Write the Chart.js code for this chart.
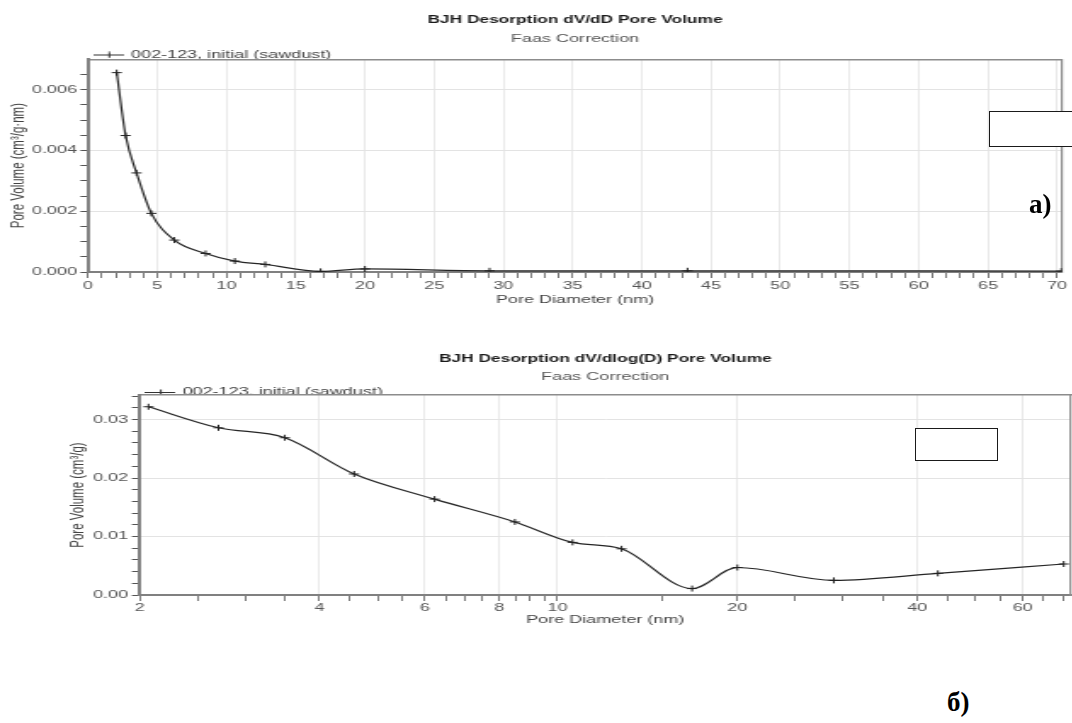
<!DOCTYPE html>
<html><head><meta charset="utf-8">
<script src="https://cdn.jsdelivr.net/npm/chart.js@4"></script>
<style>
html,body{margin:0;padding:0;background:#fff;overflow:hidden;width:1072px;height:723px;}
.wrap{position:absolute;left:0;width:631px;transform:scaleX(1.7);transform-origin:0 0;}
#w1{top:0;height:312px;}
#w2{top:340px;height:300px;}
.box{position:absolute;background:#fff;border:1.5px solid #1a1a1a;box-sizing:border-box;}
.lbl{position:absolute;font-family:'Liberation Serif','Times New Roman',serif;font-weight:bold;font-size:27px;color:#000;line-height:1;}
</style></head>
<body>
<div class="wrap" id="w1"><canvas id="c1"></canvas></div>
<div class="wrap" id="w2"><canvas id="c2"></canvas></div>
<div class="box" style="left:989px;top:111px;width:100px;height:36px"></div>
<div class="box" style="left:915px;top:428px;width:83px;height:33px"></div>
<div class="lbl" style="left:1029px;top:191px">а)</div>
<div class="lbl" style="left:947px;top:689px">б)</div>
<script>
// ---- data ----
const poreDiameter = [2.07, 2.71, 3.50, 4.57, 6.23, 8.49, 10.6, 12.8, 16.8, 20.0, 29.0, 43.3, 70.3];
const dVdD        = [0.00656, 0.00449, 0.00326, 0.00193, 0.00105, 0.00061, 0.00036, 0.00025, 0.00002, 0.00010, 0.00004, 0.00004, 0.00003];
const dVdlogD     = [0.0322, 0.0286, 0.0269, 0.0207, 0.0164, 0.0125, 0.0090, 0.0079, 0.0011, 0.0047, 0.0025, 0.0037, 0.0053];
const seriesName  = '002-123, initial (sawdust)';

// ---- tick labels ----
const topXLabels = [0, 5, 10, 15, 20, 25, 30, 35, 40, 45, 50, 55, 60, 65, 70];
const topYLabels = [0, 0.002, 0.004, 0.006];
const botXTicks  = [2, 2.5, 3, 3.5, 4, 4.5, 5, 5.5, 6, 6.5, 7, 7.5, 8, 8.5, 9, 9.5, 10, 15, 20, 25, 30, 35, 40, 45, 50, 55, 60, 65, 70];
const botXLabels = [2, 4, 6, 8, 10, 20, 40, 60];
const botYLabels = [0, 0.01, 0.02, 0.03];

function range(a, b, step) { const out = []; for (let v = a; v <= b + step / 1000; v += step) out.push(+v.toFixed(6)); return out; }
const topXTicks = range(0, 70, 1);
const topYTicks = range(0, 0.0065, 0.0005);
const botYTicks = range(0, 0.034, 0.002);
const has = (arr, v) => arr.some(a => Math.abs(a - v) < 1e-9);

Chart.defaults.font.family = "'Liberation Sans', Arial, sans-serif";

const GRID = '#e3e3e3', TICK = '#555', AXIS = '#808080', FRAME = '#8c8c8c';

const legendIcon = document.createElement('canvas');
legendIcon.width = 18; legendIcon.height = 7;
(function () { const g = legendIcon.getContext('2d'); g.strokeStyle = '#333'; g.lineWidth = 1; g.beginPath(); g.moveTo(0, 3.5); g.lineTo(18, 3.5); g.moveTo(9.5, 0.5); g.lineTo(9.5, 6.5); g.stroke(); })();

function dataset(values) {
  return {
    label: seriesName,
    data: poreDiameter.map((d, i) => ({ x: d, y: values[i] })),
    borderColor: '#262626', borderWidth: 1.2,
    pointStyle: 'cross', pointRadius: 3, pointBorderColor: '#222', pointBorderWidth: 1,
    cubicInterpolationMode: 'monotone', fill: false
  };
}
function frameX() { return { type: 'linear', position: 'top', afterFit: s => { s.height = 0; }, ticks: { display: false }, grid: { display: false, drawTicks: false }, border: { display: true, color: FRAME, width: 1.5 } }; }
function frameY(w) { return { type: 'linear', position: 'right', afterFit: s => { s.width = 0; }, ticks: { display: false }, grid: { display: false, drawTicks: false }, border: { display: true, color: FRAME, width: w } }; }
function plugins(title, tPad, sPad, legH) {
  return {
    title: { display: true, text: title, fullSize: false, color: '#1a1a1a', font: { size: 10.2, weight: 'bold' }, padding: { top: tPad, bottom: 0 } },
    subtitle: { display: true, text: 'Faas Correction', fullSize: false, color: '#555', font: { size: 10.6 }, padding: { top: sPad, bottom: 0 } },
    legend: { display: true, position: 'top', align: 'start', fullSize: false, maxHeight: legH,
      labels: { usePointStyle: true, pointStyle: legendIcon, pointStyleWidth: 16, padding: 4, color: '#444', font: { size: 10.6 } } },
    tooltip: { enabled: false }
  };
}

// ---- chart a) dV/dD ----
new Chart(document.getElementById('c1'), {
  type: 'line',
  data: { datasets: [dataset(dVdD)] },
  options: {
    responsive: true, maintainAspectRatio: false, animation: false,
    layout: { autoPadding: false, padding: { left: 0, right: 6.3, top: 0, bottom: 0 } },
    plugins: plugins('BJH Desorption dV/dD Pore Volume', 13.9, 6.8, 13.6),
    scales: {
      x: {
        type: 'linear', position: 'bottom', min: 0, max: 70.35,
        afterBuildTicks: s => { s.ticks = topXTicks.map(v => ({ value: v })); },
        afterFit: s => { s.height = 40; },
        ticks: { autoSkip: false, maxRotation: 0, padding: 1.6, color: '#555', font: { size: 10.6 },
          callback: v => has(topXLabels, v) ? String(v) : '' },
        grid: { color: c => (c.tick && has(topXLabels, c.tick.value)) ? GRID : 'rgba(0,0,0,0)', lineWidth: 0.8, tickColor: TICK, tickLength: 6 },
        border: { color: AXIS, width: 2 },
        title: { display: true, text: 'Pore Diameter (nm)', color: '#444', font: { size: 10.6 }, padding: { top: 0, bottom: 5.6 } }
      },
      x2: frameX(),
      y: {
        type: 'linear', position: 'left', min: 0, max: 0.0070,
        afterBuildTicks: s => { s.ticks = topYTicks.map(v => ({ value: v })); },
        afterFit: s => { s.width = 51.8; },
        ticks: { autoSkip: false, padding: 2, color: '#555', font: { size: 10.6 },
          callback: v => has(topYLabels, v) ? v.toFixed(3) : '' },
        grid: { color: c => (c.tick && has(topYLabels, c.tick.value)) ? GRID : 'rgba(0,0,0,0)', lineWidth: 1, tickColor: TICK, tickLength: 4.5 },
        border: { color: AXIS, width: 2 },
        title: { display: true, text: 'Pore Volume (cm³/g·nm)', color: '#444', font: { size: 11.5 }, padding: { top: 4, bottom: 0 } }
      },
      y2: frameY(1.2)
    }
  }
});

// ---- chart б) dV/dlog(D) ----
new Chart(document.getElementById('c2'), {
  type: 'line',
  data: { datasets: [dataset(dVdlogD)] },
  options: {
    responsive: true, maintainAspectRatio: false, animation: false,
    layout: { autoPadding: false, padding: { left: 0, right: 1, top: 0, bottom: 0 } },
    plugins: plugins('BJH Desorption dV/dlog(D) Pore Volume', 13.2, 5.0, 11.9),
    scales: {
      x: {
        type: 'logarithmic', position: 'bottom', min: 2, max: 72.3,
        afterBuildTicks: s => { s.ticks = botXTicks.map(v => ({ value: v })); },
        afterFit: s => { s.height = 45; },
        ticks: { autoSkip: false, maxRotation: 0, padding: 0.5, color: '#555', font: { size: 10.6 },
          callback: v => has(botXLabels, v) ? String(v) : '' },
        grid: { color: c => (c.tick && has(botXLabels, c.tick.value) && c.tick.value !== 2) ? GRID : 'rgba(0,0,0,0)', lineWidth: 0.8, tickColor: TICK, tickLength: 6 },
        border: { color: AXIS, width: 2 },
        title: { display: true, text: 'Pore Diameter (nm)', color: '#444', font: { size: 10.6 }, padding: { top: 0, bottom: 13.6 } }
      },
      x2: frameX(),
      y: {
        type: 'linear', position: 'left', min: 0, max: 0.0342,
        afterBuildTicks: s => { s.ticks = botYTicks.map(v => ({ value: v })); },
        afterFit: s => { s.width = 82.1; },
        ticks: { autoSkip: false, padding: 2.3, color: '#555', font: { size: 10.6 },
          callback: v => has(botYLabels, v) ? v.toFixed(2) : '' },
        grid: { color: c => (c.tick && has(botYLabels, c.tick.value)) ? GRID : 'rgba(0,0,0,0)', lineWidth: 1, tickColor: TICK, tickLength: 4.5 },
        border: { color: AXIS, width: 2 },
        title: { display: true, text: 'Pore Volume (cm³/g)', color: '#444', font: { size: 11.5 }, padding: { top: 39.3, bottom: 0 } }
      },
      y2: frameY(1.2)
    }
  }
});
</script>
</body></html>
